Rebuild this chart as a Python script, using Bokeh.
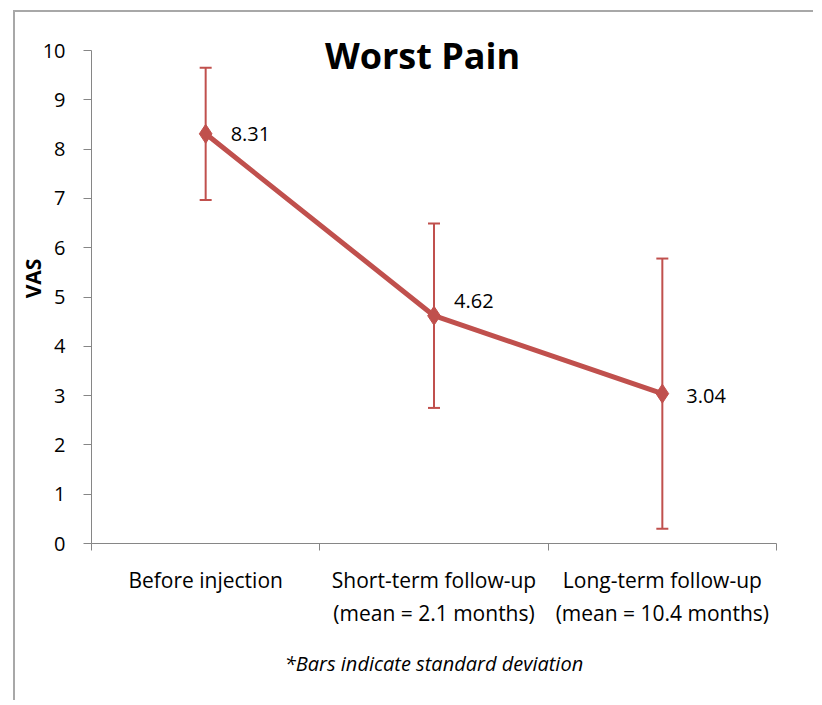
from bokeh.plotting import figure
from bokeh.models import (ColumnDataSource, FixedTicker, Whisker, TeeHead, Label, Range1d)
from bokeh.embed import file_html
from bokeh.resources import INLINE

# ---- data ----
categories = ["Before injection",
              "Short-term follow-up\n(mean = 2.1 months)",
              "Long-term follow-up\n(mean = 10.4 months)"]
means = [8.31, 4.62, 3.04]
sds = [1.34, 1.87, 2.74]
y_ticks = [0, 1, 2, 3, 4, 5, 6, 7, 8, 9, 10]
title_text = "Worst Pain"
y_label = "VAS"
footnote = "*Bars indicate standard deviation"

# label nudges (style, pixels)
label_dx = [25, 20, 24]
label_dy = [0, -15, 2]

RED = "#C0504D"
FONT = "Open Sans"
AXIS_GRAY = "#868686"

xpos = [i + 0.5 for i in range(len(categories))]
src = ColumnDataSource(dict(
    x=xpos, y=means,
    upper=[m + s for m, s in zip(means, sds)],
    lower=[m - s for m, s in zip(means, sds)],
    lbl=[f"{m:.2f}" for m in means],
    dx=label_dx, dy=label_dy,
))

W, H = 800, 690
ML, MT = 76, 1
FW, FH = 685, 530
Y_MAX = 10
Y_TOP = Y_MAX * FH / (FH - 37)   # headroom above the axis for the title

p = figure(width=W, height=H, output_backend="svg", toolbar_location=None,
           x_range=Range1d(0, len(categories)), y_range=Range1d(0, Y_TOP),
           min_border_left=ML, min_border_top=MT,
           min_border_right=W - ML - FW, min_border_bottom=H - MT - FH)
p.margin = (10, 0, 0, 13)
p.styles = {"border-top": "2px solid #a8a8a8", "border-left": "2px solid #a8a8a8"}
p.outline_line_color = None
p.xgrid.visible = False
p.ygrid.visible = False
p.background_fill_color = "white"
p.border_fill_color = "white"

# y axis
ya = p.yaxis[0]
ya.ticker = FixedTicker(ticks=y_ticks, minor_ticks=[])
ya.bounds = (0, Y_MAX)
ya.axis_line_color = AXIS_GRAY
ya.major_tick_line_color = AXIS_GRAY
ya.major_tick_out = 8
ya.major_tick_in = 0
ya.minor_tick_line_color = None
ya.major_label_text_font = FONT
ya.major_label_text_font_size = "20px"
ya.major_label_text_color = "#000000"
ya.major_label_standoff = 18
ya.axis_label = y_label
ya.axis_label_text_font = FONT
ya.axis_label_text_font_size = "21px"
ya.axis_label_text_font_style = "bold"
ya.axis_label_text_color = "#000000"
ya.axis_label_standoff = -7

# x axis
xa = p.xaxis[0]
xa.ticker = FixedTicker(ticks=xpos, minor_ticks=list(range(len(categories) + 1)))
xa.major_label_overrides = {x: c for x, c in zip(xpos, categories)}
xa.axis_line_color = AXIS_GRAY
xa.major_tick_line_color = None
xa.major_tick_out = 0
xa.major_tick_in = 0
xa.minor_tick_line_color = AXIS_GRAY
xa.minor_tick_out = 7
xa.minor_tick_in = 0
xa.major_label_text_font = FONT
xa.major_label_text_font_size = "21px"
xa.major_label_text_color = "#000000"
xa.major_label_standoff = 15
xa.axis_label = footnote
xa.axis_label_text_font = FONT
xa.axis_label_text_font_size = "20px"
xa.axis_label_text_font_style = "italic"
xa.axis_label_text_color = "#000000"
xa.axis_label_standoff = 20

# error bars
wh = Whisker(source=src, base="x", upper="upper", lower="lower",
             line_color=RED, line_width=2,
             upper_head=TeeHead(size=12, line_color=RED, line_width=2),
             lower_head=TeeHead(size=12, line_color=RED, line_width=2))
p.add_layout(wh)

# line + markers
p.line("x", "y", source=src, line_color=RED, line_width=5)
p.scatter("x", "y", source=src, marker="diamond", size=19, fill_color=RED, line_color=RED)

# data labels
p.text("x", "y", text="lbl", source=src, x_offset="dx", y_offset="dy", text_align="left",
       text_baseline="middle", text_font={"value": FONT}, text_font_size="20px",
       text_color="#000000")

# title
p.add_layout(Label(x=1.45, y=9.9, text=title_text, text_align="center",
                   text_baseline="middle", text_font=FONT, text_font_size="36px",
                   text_font_style="bold", text_color="#000000"))

open("out.html", "w").write(file_html(p, INLINE))
